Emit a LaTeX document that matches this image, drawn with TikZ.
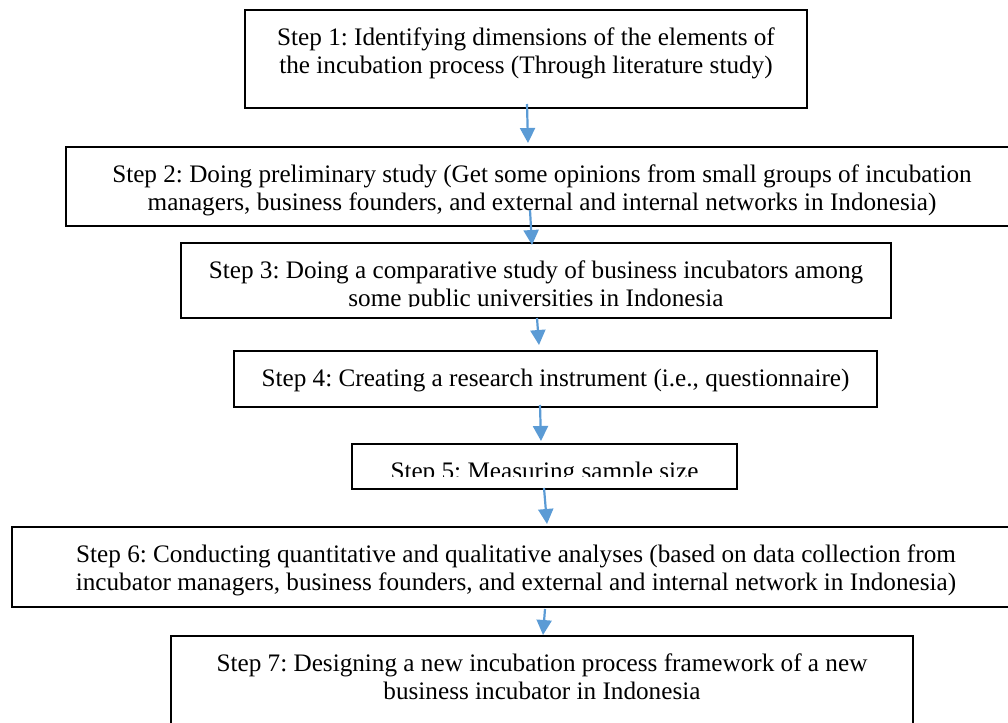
\documentclass[tikz,border=0pt]{standalone}
\usepackage{fontspec}
\setmainfont{Liberation Serif}
\usepackage{tikz}
\usetikzlibrary{%
	calc,%
	arrows.meta,%
	positioning,%
}
\frenchspacing
\definecolor{cflow}{RGB}{91, 155, 213}
\tikzset{
	>=Triangle,%
	stepbox/.style={%
			draw,%
			rectangle,%
			line width=1pt,%
			inner sep=0pt,%
			outer sep=0pt,%
			anchor=north,%
			text height=17.5pt,%
			fill=white},%
	flow/.style={%
			-{Triangle[length=7.5pt, width=7.5pt]},%
			draw=cflow,%
			line width=1.1pt},%
	cutoff/.style={%
			fill=white,%
			draw=none},%
}
\newcommand{\steplines}[1]{\begin{tabular}[t]{@{}c@{}}#1\end{tabular}}

\begin{document}
\begin{tikzpicture}[x=0.5pt, y=-0.5pt, nodes={font={\fontsize{12.6pt}{14.4pt}\selectfont}}]%
	\clip (0,0) rectangle (1008,723);
	\useasboundingbox (0,0) rectangle (1008,723);

	\node[stepbox, minimum width=281pt, text depth=31.5pt] (identify) at (526,10) {\steplines{
			Step 1: Identifying dimensions of the elements of \\
			the incubation process (Through literature study)}};

	\node[stepbox, minimum width=476pt, text depth=22pt] (prelim) at (542,147) {\steplines{
			Step 2: Doing preliminary study (Get some opinions from small groups of incubation \\
			managers, business founders, and external and internal networks in Indonesia)}};

	\node[stepbox, minimum width=355pt, text depth=20pt] (compare) at (536,243) {\steplines{
			Step 3: Doing a comparative study of business incubators among \\
			some public universities in Indonesia}};

	\node[stepbox, minimum width=321.5pt, text depth=10.5pt] (instrument) at (555.5,351) {\steplines{
			Step 4: Creating a research instrument (i.e., questionnaire)}};

	\node[stepbox, minimum width=192.5pt, text depth=5pt] (sample) at (544.5,444) {\steplines{
			Step 5: Measuring sample size}};

	\node[stepbox, minimum width=504pt, text depth=22.5pt] (analysis) at (516,527) {\steplines{
			Step 6: Conducting quantitative and qualitative analyses (based on data collection from \\
			incubator managers, business founders, and external and internal network in Indonesia)}};

	\node[stepbox, minimum width=371pt, text depth=31.5pt] (design) at (542,636) {\steplines{
			Step 7: Designing a new incubation process framework of a new \\
			business incubator in Indonesia}};

	% text cut off at the lower edge of the boxes
	\fill[cutoff] ([xshift=0.5pt, yshift=0.5pt]compare.south west) rectangle ([xshift=-0.5pt, yshift=5.5pt]compare.south east);
	\fill[cutoff] ([xshift=0.5pt, yshift=0.5pt]sample.south west) rectangle ([xshift=-0.5pt, yshift=6.25pt]sample.south east);

	\draw[flow] ([xshift=0.5pt, yshift=2pt]identify.south) to ([xshift=-7pt, yshift=2pt]prelim.north);
	\draw[flow] ([xshift=-6pt, yshift=8pt]prelim.south) to ([xshift=-2pt, yshift=-1pt]compare.north);
	\draw[flow] ([xshift=0.5pt]compare.south) to ([xshift=-8.25pt, yshift=3pt]instrument.north);
	\draw[flow] ([xshift=-7.75pt, yshift=1pt]instrument.south) to ([xshift=-1.75pt, yshift=1.5pt]sample.north);
	\draw[flow] ([xshift=-0.25pt, yshift=0.5pt]sample.south) to ([xshift=15.5pt, yshift=1.5pt]analysis.north);
	\draw[flow] ([xshift=14.5pt, yshift=-1pt]analysis.south) to ([xshift=0.5pt, yshift=0.5pt]design.north);
\end{tikzpicture}
\end{document}
